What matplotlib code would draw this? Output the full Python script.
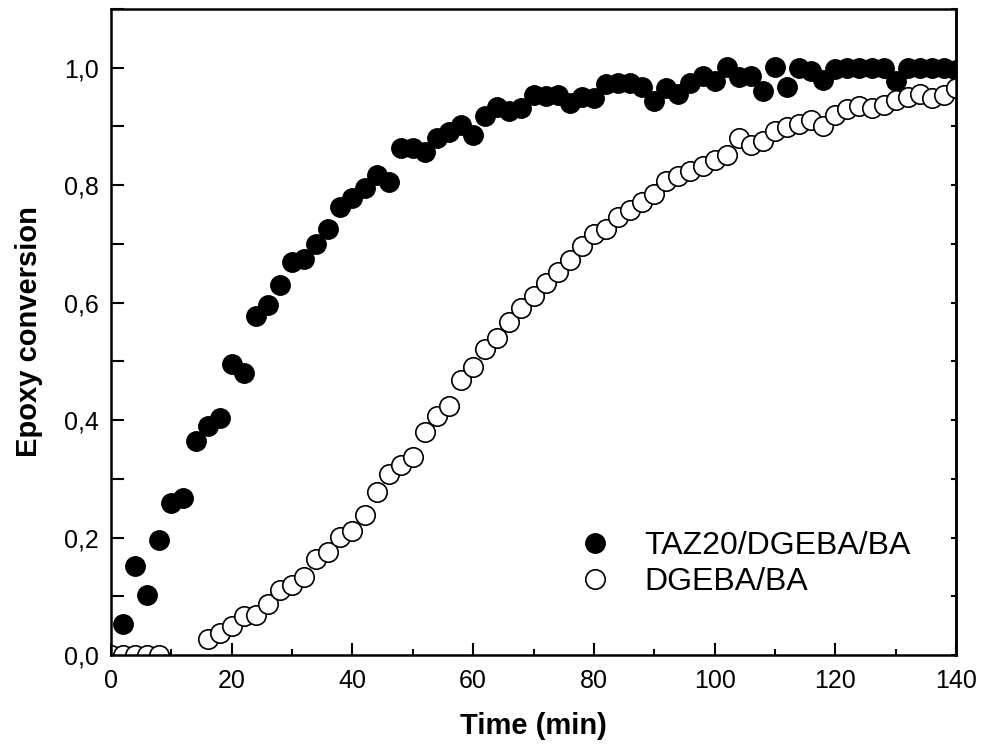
# Epoxy conversion vs time

import matplotlib
matplotlib.use('Agg')
import matplotlib.pyplot as plt
from matplotlib.ticker import MultipleLocator, FuncFormatter

plt.rcParams['font.family'] = ['Liberation Sans', 'DejaVu Sans']

# TAZ20/DGEBA/BA (filled circles)
time_taz = list(range(2, 141, 2))
conv_taz = [0.052, 0.152, 0.102, 0.196, 0.259, 0.267, 0.364, 0.390, 0.403, 0.495,
            0.480, 0.578, 0.596, 0.630, 0.669, 0.674, 0.700, 0.725, 0.763, 0.778,
            0.795, 0.818, 0.806, 0.863, 0.864, 0.856, 0.880, 0.890, 0.903, 0.885,
            0.918, 0.934, 0.927, 0.931, 0.954, 0.952, 0.953, 0.940, 0.950, 0.948,
            0.972, 0.974, 0.974, 0.968, 0.944, 0.965, 0.955, 0.974, 0.986, 0.978,
            1.002, 0.985, 0.986, 0.960, 1.001, 0.968, 1.000, 0.995, 0.980, 0.998,
            1.000, 1.000, 1.000, 1.000, 0.977, 1.000, 1.000, 1.000, 1.000, 0.997]

# DGEBA/BA (open circles)
time_ref = [0, 2, 4, 6, 8] + list(range(16, 141, 2))
conv_ref = [0.0, 0.0, 0.0, 0.0, 0.0,
            0.027, 0.037, 0.050, 0.067, 0.068, 0.087, 0.110, 0.120, 0.132, 0.163,
            0.176, 0.201, 0.211, 0.239, 0.278, 0.309, 0.323, 0.337, 0.380, 0.407,
            0.424, 0.468, 0.491, 0.521, 0.539, 0.567, 0.591, 0.612, 0.634, 0.652,
            0.672, 0.697, 0.717, 0.726, 0.746, 0.757, 0.771, 0.785, 0.807, 0.816,
            0.825, 0.833, 0.843, 0.852, 0.880, 0.868, 0.875, 0.892, 0.899, 0.905,
            0.911, 0.900, 0.920, 0.929, 0.935, 0.932, 0.937, 0.945, 0.950, 0.956,
            0.949, 0.954, 0.966]

labels = ['TAZ20/DGEBA/BA', 'DGEBA/BA']


def main():
    fig = plt.figure(figsize=(9.87, 7.54), dpi=100)
    ax = fig.add_axes([0.1125, 0.1313, 0.8561, 0.8567])

    ax.plot(time_taz, conv_taz, 'o', ms=14, mfc='black', mec='black',
            mew=1.0, label=labels[0])
    ax.plot(time_ref, conv_ref, 'o', ms=14, mfc='white', mec='black',
            mew=1.2, label=labels[1])

    ax.set_xlim(0, 140)
    ax.set_ylim(0, 1.1)

    ax.xaxis.set_major_locator(MultipleLocator(20))
    ax.xaxis.set_minor_locator(MultipleLocator(10))
    ax.yaxis.set_major_locator(MultipleLocator(0.2))
    ax.yaxis.set_minor_locator(MultipleLocator(0.1))
    ax.yaxis.set_major_formatter(FuncFormatter(lambda v, p: f'{v:.1f}'.replace('.', ',')))

    for s in ax.spines.values():
        s.set_linewidth(1.8)

    ax.tick_params(axis='x', which='major', direction='in', length=9, width=1.5,
                   labelsize=18, pad=10)
    ax.tick_params(axis='x', which='minor', direction='in', length=4.5, width=1.5)
    ax.tick_params(axis='y', which='both', direction='in', length=9, width=1.5,
                   labelsize=18, pad=9)

    # short ticks on the right spine
    right = ax.secondary_yaxis('right')
    right.yaxis.set_major_locator(MultipleLocator(0.1))
    right.tick_params(direction='in', length=3.5, width=1.5, labelright=False)
    right.spines['right'].set_linewidth(1.8)

    ax.set_xlabel('Time (min)', fontsize=21, fontweight='bold', labelpad=14)
    ax.set_ylabel('Epoxy conversion', fontsize=21, fontweight='bold', labelpad=15)

    ax.legend(loc='center left', bbox_to_anchor=(0.5349, 0.1408), frameon=False,
              fontsize=23, borderpad=0, handlelength=1.0, handletextpad=1.05,
              labelspacing=0.2)

    fig.savefig('out.png', dpi=100)


if __name__ == '__main__':
    main()
